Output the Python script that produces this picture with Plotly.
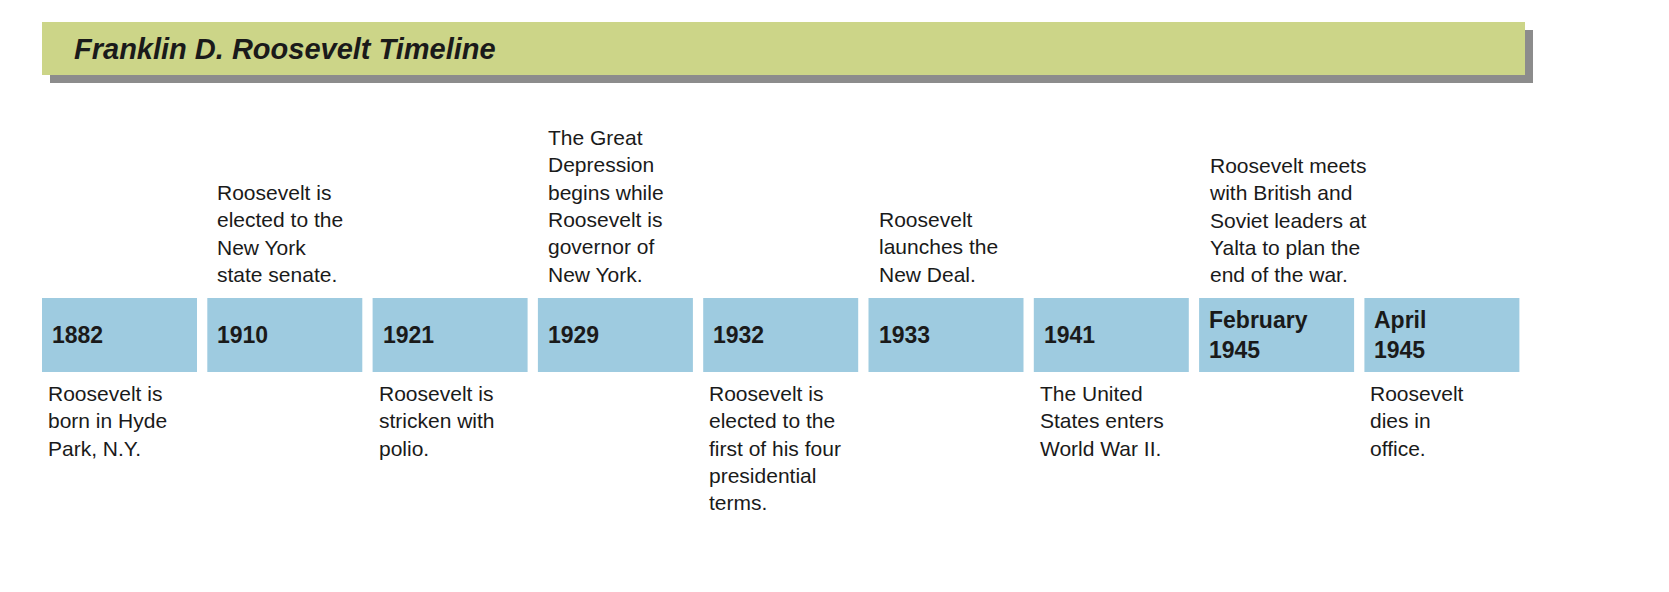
import plotly.graph_objects as go

title = "Franklin D. Roosevelt Timeline"
years = ["1882", "1910", "1921", "1929", "1932", "1933", "1941", "February<br>1945", "April<br>1945"]
above = ["", "Roosevelt is<br>elected to the<br>New York<br>state senate.", "",
         "The Great<br>Depression<br>begins while<br>Roosevelt is<br>governor of<br>New York.", "",
         "Roosevelt<br>launches the<br>New Deal.", "",
         "Roosevelt meets<br>with British and<br>Soviet leaders at<br>Yalta to plan the<br>end of the war.", ""]
below = ["Roosevelt is<br>born in Hyde<br>Park, N.Y.", "", "Roosevelt is<br>stricken with<br>polio.", "",
         "Roosevelt is<br>elected to the<br>first of his four<br>presidential<br>terms.", "",
         "The United<br>States enters<br>World War II.", "", "Roosevelt<br>dies in<br>office."]

FONT = "Liberation Sans Narrow, Arial Narrow, Liberation Sans, sans-serif"
W, H = 1669, 592
O = 8  # page body margin offset
x0, step, bw = 42 - O, 165.3, 155
fig = go.Figure()
shapes = [
    dict(type="rect", x0=50 - O, x1=1533 - O, y0=30 - O, y1=83 - O, fillcolor="#8c8c8c", line_width=0, layer="below"),
    dict(type="rect", x0=42 - O, x1=1525 - O, y0=22 - O, y1=75 - O, fillcolor="#ccd588", line_width=0, layer="below"),
]
ann = [dict(x=72 - O, y=49 - O, text="<b><i>" + title + "</i></b>", showarrow=False, xanchor="left", yanchor="middle",
            font=dict(family=FONT, size=29, color="#1a1a1a"))]
for i, (yr, a, b) in enumerate(zip(years, above, below)):
    left = x0 + i * step
    shapes.append(dict(type="rect", x0=left, x1=left + bw, y0=298 - O, y1=372 - O, fillcolor="#9ecbe0", line_width=0, layer="below"))
    ann.append(dict(x=left + 8, y=335 - O, text="<b>" + yr + "</b>", showarrow=False, xanchor="left", yanchor="middle",
                    align="left", font=dict(family=FONT, size=23, color="#1a1a1a")))
    common = dict(showarrow=False, xanchor="left", align="left", font=dict(family=FONT, size=21, color="#1a1a1a"))
    if a:
        ann.append(dict(x=left + 8, y=288 - O, text=a, yanchor="bottom", **common))
    if b:
        ann.append(dict(x=left + 4, y=380 - O, text=b, yanchor="top", **common))
fig.update_layout(width=W, height=H, margin=dict(l=0, r=0, t=0, b=0), plot_bgcolor="white", paper_bgcolor="white",
                  xaxis=dict(range=[0, W], visible=False), yaxis=dict(range=[H, 0], visible=False),
                  shapes=shapes, annotations=ann, showlegend=False)
fig.write_html("out.html")
